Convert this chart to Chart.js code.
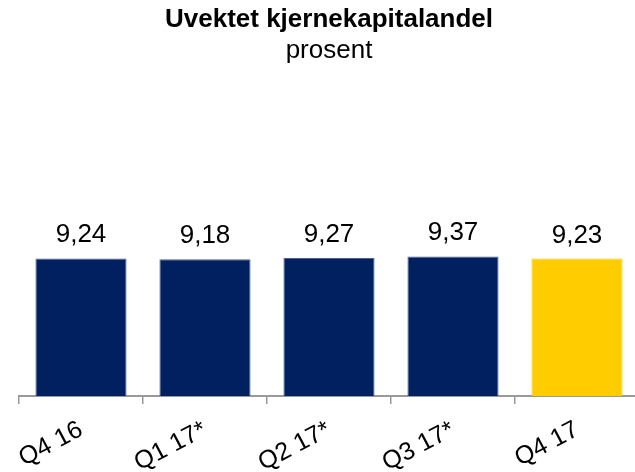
<!DOCTYPE html>
<html>
<head>
<meta charset="utf-8">
<script src="https://cdn.jsdelivr.net/npm/chart.js@4"></script>
<style>
  html, body { margin: 0; padding: 0; overflow: hidden; background: #fff; }
  #wrap { width: 662px; height: 472px; }
</style>
</head>
<body>
<div id="wrap"><canvas id="graf"></canvas></div>
<script>
const kvartaler = ['Q4 16', 'Q1 17*', 'Q2 17*', 'Q3 17*', 'Q4 17'];
const andel = [9.24, 9.18, 9.27, 9.37, 9.23];
const farger = ['#002060', '#002060', '#002060', '#002060', '#FFCC00'];
const kanter = ['#4d6290', '#4d6290', '#4d6290', '#4d6290', '#FFCC00'];

const font = "'Liberation Sans', Arial, sans-serif";

// tall over stolpene, med komma som desimaltegn
const verdier = {
  id: 'verdier',
  afterDatasetsDraw(chart) {
    const ctx = chart.ctx;
    const meta = chart.getDatasetMeta(0);
    ctx.save();
    ctx.font = '26px ' + font;
    ctx.fillStyle = '#000';
    ctx.textAlign = 'center';
    ctx.textBaseline = 'alphabetic';
    meta.data.forEach((bar, i) => {
      ctx.fillText(andel[i].toFixed(2).replace('.', ','), bar.x, bar.y - 16);
    });
    ctx.restore();
  }
};

const data = {
  labels: kvartaler,
  datasets: [{
    data: andel,
    backgroundColor: farger,
    borderColor: kanter,
    borderWidth: 1,
    categoryPercentage: 1,
    barPercentage: 0.735
  }]
};

const config = {
  type: 'bar',
  data: data,
  options: {
    responsive: true,
    maintainAspectRatio: false,
    animation: false,
    layout: { padding: { left: 19, right: 23, top: 0, bottom: 0 } },
    plugins: {
      legend: { display: false },
      tooltip: { enabled: false },
      title: {
        display: true,
        text: 'Uvektet kjernekapitalandel',
        color: '#000',
        font: { family: font, size: 26, weight: 'bold', lineHeight: 1.1 },
        padding: { top: 6, bottom: 0 }
      },
      subtitle: {
        display: true,
        text: 'prosent',
        color: '#000',
        font: { family: font, size: 26, lineHeight: 1.1 },
        padding: { top: 2, bottom: 33 }
      }
    },
    scales: {
      x: {
        grid: {
          display: true,
          offset: true,
          drawOnChartArea: false,
          drawTicks: true,
          tickLength: 8,
          color: '#999',
          lineWidth: 1.5
        },
        border: { display: true, color: '#999', width: 2 },
        ticks: {
          color: '#000',
          font: { family: font, size: 25 },
          maxRotation: 28,
          minRotation: 28,
          autoSkip: false,
          padding: 11
        },
        afterFit(scale) {
          scale.height = 76;
          scale.paddingLeft = 0;
          scale.paddingRight = 0;
        }
      },
      y: {
        display: false,
        min: 0,
        max: 20
      }
    }
  },
  plugins: [verdier]
};

const ctx = document.querySelector('#graf').getContext('2d');
const graf = new Chart(ctx, config);
</script>
</body>
</html>
